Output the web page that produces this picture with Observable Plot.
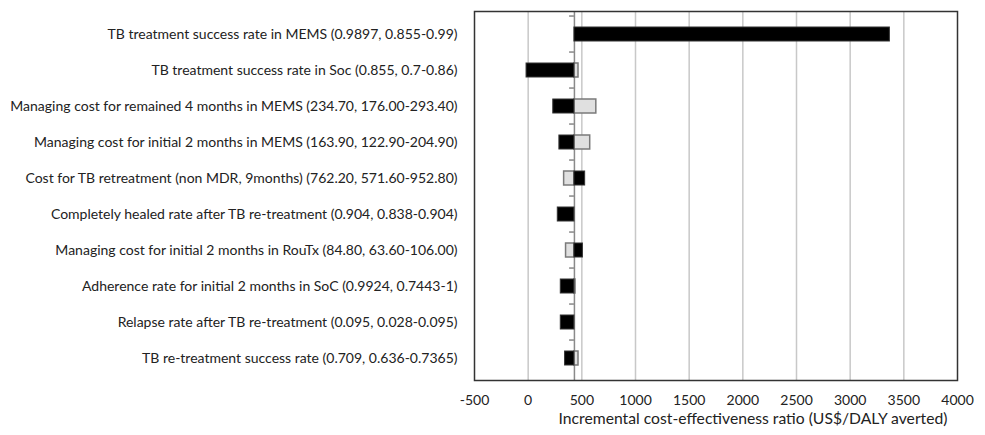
<!DOCTYPE html>
<html><head><meta charset="utf-8">
<script src="https://cdn.jsdelivr.net/npm/d3@7"></script>
<script src="https://cdn.jsdelivr.net/npm/@observablehq/plot@0.6"></script>
<style>body{margin:0;background:#fff;}</style>
</head><body><div id="chart"></div>
<script>
const categories = [
  "TB treatment success rate in MEMS (0.9897, 0.855-0.99)",
  "TB treatment success rate in Soc (0.855, 0.7-0.86)",
  "Managing cost for remained 4 months in MEMS (234.70, 176.00-293.40)",
  "Managing cost for initial 2 months in MEMS (163.90, 122.90-204.90)",
  "Cost for TB retreatment (non MDR, 9months) (762.20, 571.60-952.80)",
  "Completely healed rate after TB re-treatment (0.904, 0.838-0.904)",
  "Managing cost for initial 2 months in RouTx (84.80, 63.60-106.00)",
  "Adherence rate for initial 2 months in SoC (0.9924, 0.7443-1)",
  "Relapse rate after TB re-treatment (0.095, 0.028-0.095)",
  "TB re-treatment success rate (0.709, 0.636-0.7365)"
];
const baseICER = 431;
const blackValues = [3370, -15, 234, 291, 531, 276, 510, 304, 304, 344];
const lightValues = [431, 469, 635, 578, 335, 431, 353, 441, 431, 469];
const xTicks = [-500, 0, 500, 1000, 1500, 2000, 2500, 3000, 3500, 4000];
const xLabel = "Incremental cost-effectiveness ratio (US$/DALY averted)";

const rows = categories.map((c, i) => ({category: c, black: blackValues[i], light: lightValues[i]}));

const plot = Plot.plot({
  width: 985, height: 435,
  marginLeft: 474, marginRight: 28, marginTop: 11, marginBottom: 55,
  style: {fontFamily: "Lato, sans-serif", fontSize: "14px", color: "#222", background: "#fff"},
  x: {domain: [-500, 4000], ticks: xTicks},
  y: {domain: categories, padding: 0},
  marks: [
    Plot.gridX(xTicks.filter(t => t > -500 && t < 4000), {stroke: "#c8c8c8", strokeOpacity: 1, strokeWidth: 1.5}),
    Plot.ruleX([baseICER], {stroke: "#8a8a8a", strokeWidth: 1.5}),
    Plot.ruleY(categories, {y: d => d, x1: () => baseICER - 45, x2: () => baseICER, dy: -18.45, stroke: "#888", strokeWidth: 1.5}),
    Plot.barX(rows, {y: "category", x1: () => baseICER, x2: "light", fill: "#e0e0e0", stroke: "#7a7a7a", strokeWidth: 1.5, insetTop: 11, insetBottom: 11}),
    Plot.barX(rows, {y: "category", x1: () => baseICER, x2: "black", fill: "#000", stroke: "#333", insetTop: 11, insetBottom: 11}),
    Plot.frame({stroke: "#333", strokeWidth: 1.5}),
    Plot.axisX({ticks: xTicks, tickFormat: d => String(d), tickSize: 0, tickPadding: 15, fontSize: 14, label: null}),
    Plot.axisY({tickSize: 0, tickPadding: 17, fontSize: 14, label: null}),
    Plot.text([xLabel], {text: d => d, frameAnchor: "bottom", dy: 43, dx: 37, fontSize: 15.7})
  ]
});
document.getElementById("chart").appendChild(plot);
</script>
</body></html>
